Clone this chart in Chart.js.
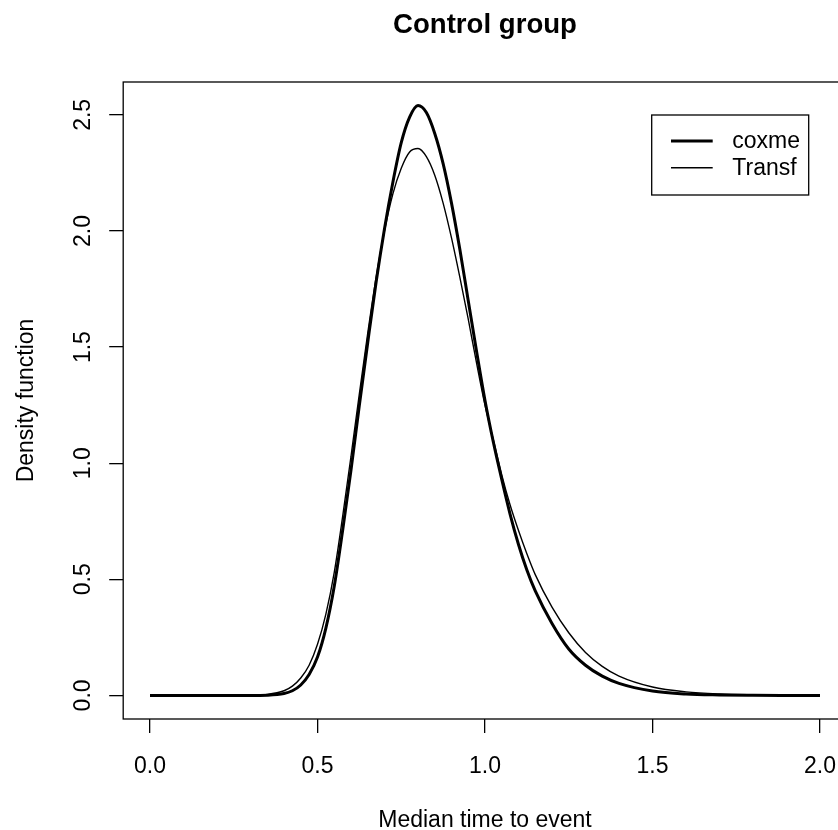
<!DOCTYPE html>
<html>
<head>
<meta charset="utf-8">
<script src="https://cdn.jsdelivr.net/npm/chart.js@4.4.1/dist/chart.umd.min.js"></script>
<style>
  html, body { margin: 0; padding: 0; overflow: hidden; background: #fff; }
  canvas { display: block; }
</style>
</head>
<body>
<canvas id="densityChart" width="880" height="830"></canvas>
<script>
// x grid of the curves (median time to event)
var timeValues = [0.00, 0.10, 0.20, 0.30, 0.35, 0.40, 0.425, 0.45, 0.475, 0.50, 0.525, 0.55, 0.575, 0.60, 0.625,
    0.65, 0.675, 0.70, 0.725, 0.75, 0.775, 0.80, 0.825, 0.85, 0.875, 0.90, 0.925, 0.95, 0.975, 1.00,
    1.025, 1.05, 1.075, 1.10, 1.125, 1.15, 1.20, 1.25, 1.30, 1.35, 1.40, 1.50, 1.60, 1.70, 1.80, 1.90, 2.00];

// density
var coxmeValues = [0, 0, 0, 0, 0.001, 0.008, 0.02, 0.045, 0.09, 0.165, 0.29, 0.47, 0.71, 0.97, 1.25,
    1.52, 1.78, 2.01, 2.21, 2.38, 2.49, 2.54, 2.51, 2.42, 2.29, 2.12, 1.92, 1.70, 1.48, 1.27,
    1.09, 0.93, 0.78, 0.65, 0.54, 0.45, 0.31, 0.20, 0.13, 0.083, 0.052, 0.019, 0.006, 0.002, 0.0005, 0, 0];

var transfValues = [0, 0, 0, 0, 0.004, 0.02, 0.04, 0.075, 0.13, 0.22, 0.35, 0.53, 0.77, 1.03, 1.30,
    1.56, 1.80, 2.00, 2.16, 2.27, 2.34, 2.355, 2.32, 2.24, 2.12, 1.97, 1.80, 1.62, 1.43, 1.25,
    1.10, 0.95, 0.82, 0.71, 0.61, 0.52, 0.38, 0.27, 0.185, 0.125, 0.083, 0.036, 0.015, 0.006, 0.0025, 0.001, 0.0003];

var xTicks = [0.0, 0.5, 1.0, 1.5, 2.0];
var yTicks = [0.0, 0.5, 1.0, 1.5, 2.0, 2.5];
var seriesNames = ['coxme', 'Transf'];

var FONT = '"Liberation Sans", Arial, Helvetica, sans-serif';

function toPoints(values) {
    return timeValues.map((t, i) => ({x: t, y: values[i]}));
}

// R-style box, labels, titles and legend
const rFrame = {
    id: 'rFrame',
    afterDraw(chart) {
        var ctx = chart.ctx;
        var area = chart.chartArea;
        var sx = chart.scales.x;
        var sy = chart.scales.y;
        ctx.save();
        ctx.strokeStyle = '#000';
        ctx.lineWidth = 1.3;
        ctx.strokeRect(area.left, area.top, area.right - area.left, area.bottom - area.top);

        ctx.fillStyle = '#000';
        ctx.font = '23px ' + FONT;
        ctx.textAlign = 'center';
        ctx.textBaseline = 'alphabetic';
        xTicks.forEach(v => ctx.fillText(v.toFixed(1), sx.getPixelForValue(v), 773));
        ctx.fillText('Median time to event', (area.left + area.right) / 2, 826.5);

        yTicks.forEach(v => {
            ctx.save();
            ctx.translate(90, sy.getPixelForValue(v));
            ctx.rotate(-Math.PI / 2);
            ctx.fillText(v.toFixed(1), 0, 0);
            ctx.restore();
        });
        ctx.save();
        ctx.translate(33.3, (area.top + area.bottom) / 2);
        ctx.rotate(-Math.PI / 2);
        ctx.fillText('Density function', 0, 0);
        ctx.restore();

        ctx.font = 'bold 27.6px ' + FONT;
        ctx.fillText('Control group', (area.left + area.right) / 2, 33.3);

        // legend
        ctx.lineWidth = 1.3;
        ctx.strokeRect(651.7, 115, 157, 80);
        ctx.font = '23px ' + FONT;
        ctx.textAlign = 'left';
        ctx.textBaseline = 'middle';
        var rows = [141, 167.7];
        chart.data.datasets.forEach((ds, i) => {
            ctx.lineWidth = ds.borderWidth;
            ctx.beginPath();
            ctx.moveTo(671, rows[i]);
            ctx.lineTo(712.7, rows[i]);
            ctx.stroke();
            ctx.fillText(ds.label, 732.3, rows[i] + 1);
        });
        ctx.restore();
    }
};

new Chart(document.getElementById('densityChart').getContext('2d'), {
    type: 'line',
    data: {
        datasets: [
            {
                label: seriesNames[0],
                data: toPoints(coxmeValues),
                borderColor: '#000',
                borderWidth: 3,
                pointRadius: 0,
                cubicInterpolationMode: 'monotone',
                fill: false
            },
            {
                label: seriesNames[1],
                data: toPoints(transfValues),
                borderColor: '#000',
                borderWidth: 1.4,
                pointRadius: 0,
                cubicInterpolationMode: 'monotone',
                fill: false
            }
        ]
    },
    options: {
        responsive: false,
        animation: false,
        layout: { padding: { left: 0, top: 82, right: 33.2, bottom: 0 } },
        plugins: {
            legend: { display: false },
            title: { display: false },
            tooltip: { enabled: false }
        },
        scales: {
            x: {
                type: 'linear',
                min: -0.08,
                max: 2.08,
                afterBuildTicks: scale => { scale.ticks = xTicks.map(v => ({value: v})); },
                afterFit: scale => { scale.height = 111; },
                ticks: { display: false },
                border: { display: false },
                grid: { drawOnChartArea: false, drawTicks: true, tickLength: 14, color: '#000', lineWidth: 1.3 }
            },
            y: {
                type: 'linear',
                min: -0.1016,
                max: 2.6416,
                afterBuildTicks: scale => { scale.ticks = yTicks.map(v => ({value: v})); },
                afterFit: scale => { scale.width = 123.2; },
                ticks: { display: false },
                border: { display: false },
                grid: { drawOnChartArea: false, drawTicks: true, tickLength: 14, color: '#000', lineWidth: 1.3 }
            }
        }
    },
    plugins: [rFrame]
});
</script>
</body>
</html>
